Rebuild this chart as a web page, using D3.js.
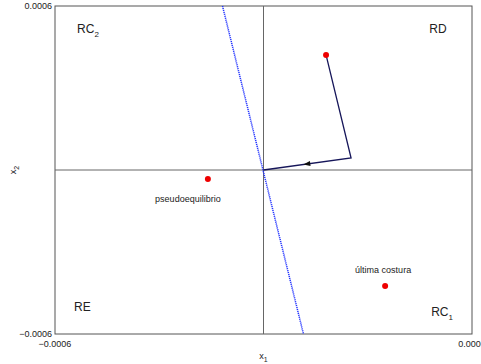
<!DOCTYPE html>
<html>
<head>
<meta charset="utf-8">
<script src="https://cdn.jsdelivr.net/npm/d3@7"></script>
<style>
  body { margin: 0; background: #fff; }
  svg { display: block; font-family: "Liberation Sans", Arial, sans-serif; }
</style>
</head>
<body>
<svg id="chart" width="481" height="364"></svg>
<script>
// axis range and tick labels
var xDomain = [-0.0006, 0.0006];
var yDomain = [-0.0006, 0.0006];
var xTickLabels = ["\u22120.0006", "0.0006"];
var yTickLabels = ["\u22120.0006", "0.0006"];

// trajectory (top point -> corner -> origin)
var pathX = [0.000180, 0.000252, 0.0];
var pathY = [0.000421, 0.000044, 0.0];

// red marked points
var pointNames = ["", "pseudoequilibrio", "\u00faltima costura"];
var pointX = [0.000180, -0.000160, 0.000350];
var pointY = [0.000421, -0.000033, -0.000424];

// dotted blue line
var lineX = [-0.000118, 0.000115];
var lineY = [0.0006, -0.0006];

// region labels
var regionNames = ["RC", "RD", "RE", "RC"];
var regionSubs = ["2", "", "", "1"];
var regionX = [-0.000505, 0.000502, -0.000521, 0.000514];
var regionY = [0.000500, 0.000500, -0.000516, -0.000534];

var svg = d3.select('#chart');
var margin = {left: 55, right: 9, top: 6, bottom: 30};
var w = 481 - margin.left - margin.right;
var h = 364 - margin.top - margin.bottom;

var x = d3.scaleLinear().domain(xDomain).range([margin.left, margin.left + w]);
var y = d3.scaleLinear().domain(yDomain).range([margin.top + h, margin.top]);

// frame
svg.append('rect')
  .attr('x', x(xDomain[0])).attr('y', y(yDomain[1]))
  .attr('width', w).attr('height', h)
  .attr('fill', 'none').attr('stroke', '#555').attr('stroke-width', 1);

// zero lines
svg.append('line')
  .attr('x1', x(0)).attr('x2', x(0))
  .attr('y1', y(yDomain[0])).attr('y2', y(yDomain[1]))
  .attr('stroke', '#666').attr('stroke-width', 1);
svg.append('line')
  .attr('x1', x(xDomain[0])).attr('x2', x(xDomain[1]))
  .attr('y1', y(0)).attr('y2', y(0))
  .attr('stroke', '#666').attr('stroke-width', 1);

// tick labels
svg.append('text').text(yTickLabels[1])
  .attr('x', x(xDomain[0]) - 3).attr('y', y(yDomain[1]) + 3)
  .attr('text-anchor', 'end').attr('font-size', 9).attr('fill', '#222');
svg.append('text').text(yTickLabels[0])
  .attr('x', x(xDomain[0]) - 3).attr('y', y(yDomain[0]) + 3)
  .attr('text-anchor', 'end').attr('font-size', 9).attr('fill', '#222');
svg.append('text').text(xTickLabels[0])
  .attr('x', x(xDomain[0])).attr('y', y(yDomain[0]) + 13)
  .attr('text-anchor', 'middle').attr('font-size', 9).attr('fill', '#222');
svg.append('text').text(xTickLabels[1])
  .attr('x', x(xDomain[1])).attr('y', y(yDomain[0]) + 13)
  .attr('text-anchor', 'middle').attr('font-size', 9).attr('fill', '#222');

// axis titles
var xt = svg.append('text')
  .attr('x', x(0)).attr('y', 359)
  .attr('text-anchor', 'middle').attr('font-size', 9).attr('fill', '#222');
xt.append('tspan').text('x');
xt.append('tspan').text('1').attr('font-size', 7).attr('dy', 3);

var yt = svg.append('text')
  .attr('transform', 'translate(16,' + y(0) + ') rotate(-90)')
  .attr('text-anchor', 'middle').attr('font-size', 9).attr('fill', '#222');
yt.append('tspan').text('x');
yt.append('tspan').text('2').attr('font-size', 7).attr('dy', 3);

// dotted blue line
svg.append('line')
  .attr('x1', x(lineX[0])).attr('y1', y(lineY[0]))
  .attr('x2', x(lineX[1])).attr('y2', y(lineY[1]))
  .attr('stroke', '#2233ff').attr('stroke-width', 1.5)
  .attr('stroke-dasharray', '1.2,0.8');

// trajectory
var line = d3.line().x(function(d) { return x(d[0]); }).y(function(d) { return y(d[1]); });
var pts = d3.zip(pathX, pathY);
svg.append('path')
  .attr('d', line(pts))
  .attr('fill', 'none').attr('stroke', '#16165a').attr('stroke-width', 1.3);

// arrowhead halfway along the last segment
var a = pts[1], b = pts[2];
var mx = (x(a[0]) + x(b[0])) / 2, my = (y(a[1]) + y(b[1])) / 2;
var ang = Math.atan2(y(b[1]) - y(a[1]), x(b[0]) - x(a[0])) * 180 / Math.PI;
svg.append('path')
  .attr('d', 'M4,0 L-3,-2.5 L-3,2.5 Z')
  .attr('transform', 'translate(' + mx + ',' + my + ') rotate(' + ang + ')')
  .attr('fill', '#111');

// red points
svg.selectAll('.pt')
  .data(d3.range(pointX.length))
  .enter().append('circle')
  .attr('class', 'pt')
  .attr('cx', function(i) { return x(pointX[i]); })
  .attr('cy', function(i) { return y(pointY[i]); })
  .attr('r', 3)
  .attr('fill', '#ee0000');

svg.selectAll('.ptlabel')
  .data([1, 2])
  .enter().append('text')
  .attr('class', 'ptlabel')
  .attr('x', function(i) { return x(pointX[i]) + (i === 1 ? -20 : -2); })
  .attr('y', function(i) { return y(pointY[i]) + (i === 1 ? 23 : -13); })
  .attr('text-anchor', 'middle').attr('font-size', 9).attr('fill', '#222')
  .text(function(i) { return pointNames[i]; });

// region labels
regionNames.forEach(function(n, i) {
  var t = svg.append('text')
    .attr('x', x(regionX[i])).attr('y', y(regionY[i]))
    .attr('text-anchor', 'middle').attr('font-size', 12).attr('fill', '#222');
  t.append('tspan').text(n);
  if (regionSubs[i]) t.append('tspan').text(regionSubs[i]).attr('font-size', 8).attr('dy', 4);
});
</script>
</body>
</html>
